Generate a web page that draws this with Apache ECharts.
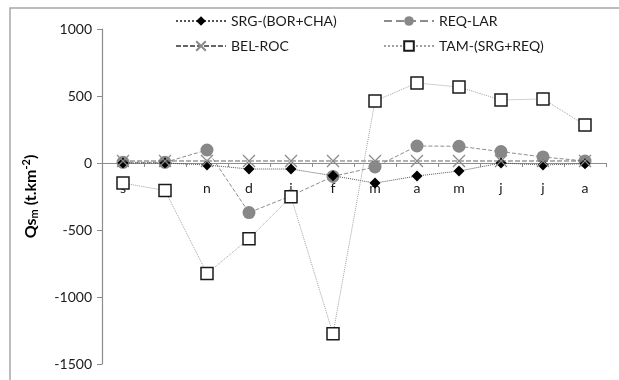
<!DOCTYPE html>
<html><head><meta charset="utf-8">
<script src="https://cdn.jsdelivr.net/npm/echarts@6/dist/echarts.min.js"></script>
<style>html,body{margin:0;padding:0;background:#fff}#c{width:619px;height:380px}</style>
</head><body><div id="c"></div>
<script>
const categories = ['s','o','n','d','j','f','m','a','m','j','j','a'];
const srg = [0, 0, -15, -45, -45, -95, -150, -97, -60, 0, -15, -5];
const req = [5, 5, 97, -370, -245, -100, -30, 127, 125, 85, 45, 15];
const bel = [15, 15, 15, 15, 15, 15, 15, 15, 15, 15, 15, 15];
const tam = [-150, -205, -825, -565, -252, -1275, 463, 597, 567, 470, 478, 284];
const yTicks = [-1500, -1000, -500, 0, 500, 1000];

const chart = echarts.init(document.getElementById('c'));
const font = 'Lato, "Open Sans", sans-serif';
const xPath = 'path://M0,0L10,10M10,0L0,10';
function leg(name, left, top){
  return {show:true, data:[name], left:left, top:top, itemWidth:50, itemHeight:12, itemGap:0,
    textStyle:{fontFamily:font, fontSize:14, color:'#1a1a1a'}, padding:0};
}
chart.setOption({
  animation:false,
  graphic:[{type:'rect', shape:{x:10,y:8,width:640,height:400}, style:{fill:'none', stroke:'#a6a6a6', lineWidth:1.5}}],
  legend:[leg('SRG-(BOR+CHA)',175,14), leg('REQ-LAR',383,14), leg('BEL-ROC',175,39), leg('TAM-(SRG+REQ)',383,39)],
  grid:{left:102, right:13, top:29, bottom:16, containLabel:false, outerBoundsMode:'none'},
  xAxis:{type:'category', data:categories, boundaryGap:true,
    axisLine:{onZero:true, lineStyle:{color:'#8c8c8c', width:1.2}},
    axisTick:{show:true, length:4, lineStyle:{color:'#8c8c8c'}},
    axisLabel:{margin:-183, fontFamily:font, fontSize:14, color:'#1a1a1a'}},
  yAxis:{type:'value', min:-1500, max:1000, interval:500,
    axisLine:{show:true, lineStyle:{color:'#8c8c8c', width:1.2}},
    axisTick:{show:true, length:5, lineStyle:{color:'#8c8c8c'}},
    splitLine:{show:false},
    axisLabel:{margin:10, fontFamily:font, fontSize:14, color:'#1a1a1a',
      formatter:v=>yTicks.includes(v)?String(v):''},
    name:'{b|Qs}{sub|m}{b| (t.km}{sup|-2}{b|)}', nameLocation:'middle', nameRotate:90, nameGap:62,
    nameTextStyle:{rich:{
      b:{fontFamily:font, fontSize:16, fontWeight:'bold', color:'#000'},
      sub:{fontFamily:font, fontSize:11, fontWeight:'bold', color:'#000', padding:[8,0,0,0]},
      sup:{fontFamily:font, fontSize:11, fontWeight:'bold', color:'#000', padding:[0,0,8,0]}
    }}},
  series:[
    {name:'SRG-(BOR+CHA)', type:'line', data:srg, symbol:'diamond', symbolSize:11, z:3,
      lineStyle:{color:'#555', width:1, type:'dotted'}, itemStyle:{color:'#000'}},
    {name:'REQ-LAR', type:'line', data:req, symbol:'circle', symbolSize:13, z:2,
      lineStyle:{color:'#8c8c8c', width:1, type:'dashed'}, itemStyle:{color:'#888'}},
    {name:'BEL-ROC', type:'line', data:bel, symbol:xPath, symbolSize:12, z:4,
      lineStyle:{color:'#666', width:1, type:[5,2]},
      itemStyle:{color:'rgba(0,0,0,0)', borderColor:'#8a8a8a', borderWidth:1.2}},
    {name:'TAM-(SRG+REQ)', type:'line', data:tam, symbol:'rect', symbolSize:12, z:5,
      lineStyle:{color:'#a0a0a0', width:1, type:'dotted'},
      itemStyle:{color:'#fff', borderColor:'#1a1a1a', borderWidth:1.5}}
  ]
});
</script></body></html>
